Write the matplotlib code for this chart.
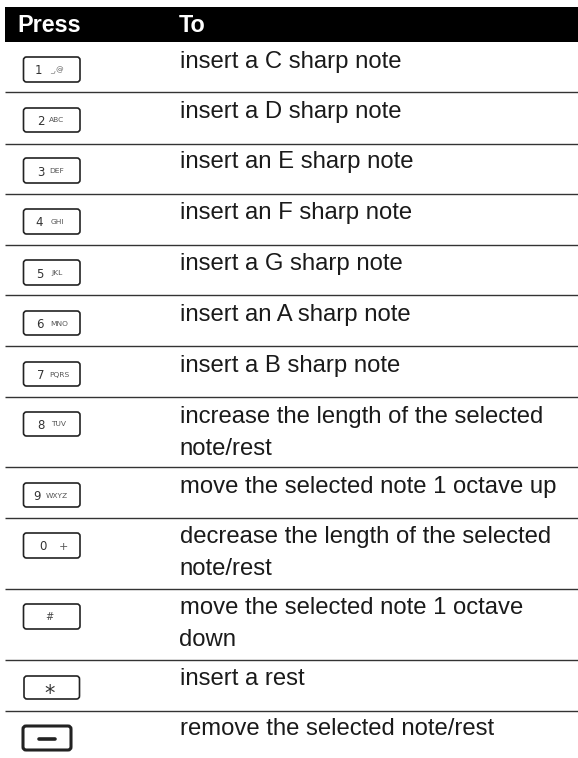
import matplotlib
matplotlib.use("Agg")
import matplotlib.pyplot as plt
from matplotlib.patches import FancyBboxPatch, Rectangle

WIDTH, HEIGHT = 578, 758
headers = ["Press", "To"]
key_digits = ["1", "2", "3", "4", "5", "6", "7", "8", "9", "0", "", "", ""]
key_letters = ["_,@", "ABC", "DEF", "GHI", "JKL", "MNO", "PQRS", "TUV", "WXYZ", "+", "#", "*", ""]
actions = [
    "insert a C sharp note",
    "insert a D sharp note",
    "insert an E sharp note",
    "insert an F sharp note",
    "insert a G sharp note",
    "insert an A sharp note",
    "insert a B sharp note",
    "increase the length of the selected\nnote/rest",
    "move the selected note 1 octave up",
    "decrease the length of the selected\nnote/rest",
    "move the selected note 1 octave\ndown",
    "insert a rest",
    "remove the selected note/rest",
]
# layout, in pixels
row_lines = [92, 144, 194, 245, 295, 346, 397, 467, 518, 589, 659.5, 711]
text_baselines = [68, 118, 168, 219, 270, 321, 372, 423, 493, 543, 614, 685, 735]
key_tops = [57, 108, 158, 209, 260, 311, 362, 412, 483, 533, 604, 676, 726]
key_bottoms = [82, 132, 183, 234, 285, 335, 386, 436, 507, 558, 629, 699, 750]
digit_x = [38, 41, 41, 39, 40, 40, 41, 41, 37, 43, 0, 0, 0]
letter_x = [57, 57, 57, 57, 57, 59, 59, 59, 57, 63, 49.5, 50, 0]
LINE_STEP = 32

fig = plt.figure(figsize=(WIDTH / 100, HEIGHT / 100), dpi=100)
ax = fig.add_axes([0, 0, 1, 1])
ax.set_xlim(0, WIDTH)
ax.set_ylim(HEIGHT, 0)
ax.axis("off")
font = ["Liberation Sans", "DejaVu Sans"]

ax.add_patch(Rectangle((5, 7), 573, 35, fc="black", ec="none"))
for x, label in zip([17, 179], headers):
    ax.text(x, 32, label, color="white", fontsize=16.8, fontweight="bold", family=font, va="baseline")

for y in row_lines:
    ax.plot([5, 578], [y, y], color="#333333", lw=1.0, solid_capstyle="butt")

for i, act in enumerate(actions):
    for n, part in enumerate(act.split("\n")):
        ax.text(179.5, text_baselines[i] + n * LINE_STEP, part, color="#1a1a1a", fontsize=17.2,
                family=font, va="baseline")
    y0, y1 = key_tops[i], key_bottoms[i]
    h = y1 - y0
    last = i == len(actions) - 1
    x0, x1 = (23, 71) if last else (24, 79.5) if key_letters[i] == "*" else (23.5, 80)
    ax.add_patch(FancyBboxPatch((x0, y0), x1 - x0, h, boxstyle="round,pad=0,rounding_size=3",
                                fc="white", ec="#222222", lw=2.2 if last else 1.2))
    cy = (y0 + y1) / 2
    d, l = key_digits[i], key_letters[i]
    if last:
        ax.plot([39, 55], [cy + 0.5, cy + 0.5], color="#222222", lw=2.6, solid_capstyle="round")
    elif d:
        ax.text(digit_x[i], cy, d, fontsize=8.5, family="DejaVu Sans", ha="center", va="center_baseline",
                color="#333333")
        ax.text(letter_x[i], cy, l, fontsize=8 if l == "+" else 5.4, family="DejaVu Sans", ha="center",
                va="center_baseline", color="#555555")
    elif l == "*":
        ax.text(letter_x[i], cy + 6, l, fontsize=15, family="DejaVu Sans", ha="center", va="center",
                color="#333333")
    else:
        ax.text(letter_x[i], cy, l, fontsize=7, family="DejaVu Sans", ha="center", va="center",
                color="#444444", style="italic")

fig.savefig("out.png", dpi=100)
